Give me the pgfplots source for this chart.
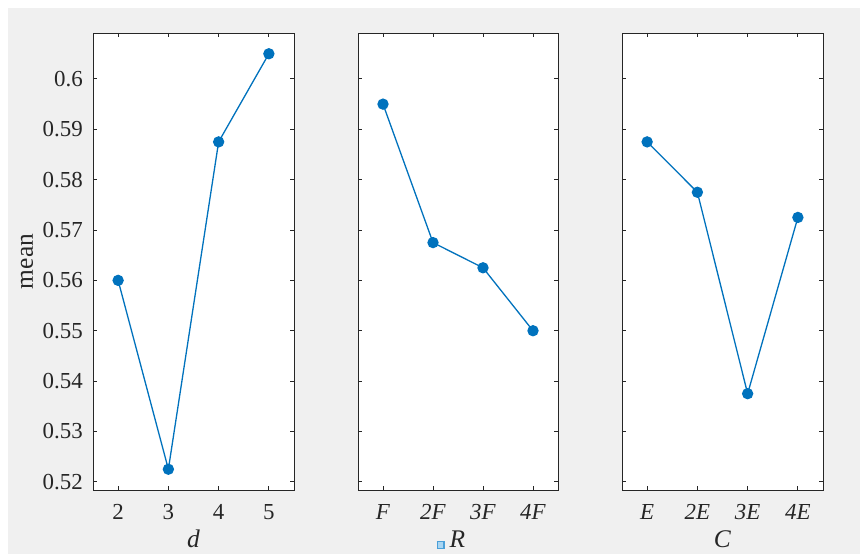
\documentclass[border=0pt]{standalone}
\usepackage{pgfplots}
\pgfplotsset{compat=1.18}
\usepackage{fontspec}
\setmainfont{Liberation Serif}
\definecolor{mblue}{HTML}{0072BD}
\definecolor{bggray}{HTML}{F0F0F0}
\definecolor{axgray}{HTML}{262626}
\definecolor{sqfill}{HTML}{A8D5F2}
\definecolor{sqedge}{HTML}{4A9FD8}
\pgfplotsset{
  myline/.style={color=mblue, line width=1.3bp, mark=*, mark size=5bp, mark options={solid, fill=mblue, draw=mblue}},
  panel/.style={
    scale only axis, width=201bp, height=457bp,
    xmin=-0.5, xmax=3.5, ymin=0.518375, ymax=0.609125,
    xtick={0,1,2,3},
    ytick={0.52,0.53,0.54,0.55,0.56,0.57,0.58,0.59,0.6},
    axis background/.style={fill=white},
    axis line style={axgray, line width=0.9bp},
    every tick/.style={axgray, line width=0.9bp},
    major tick length=4bp,
    tick align=inside,
    /pgf/number format/assume math mode=true,
    ticklabel style={font=\rmfamily\fontsize{23}{27}\selectfont, text=axgray},
    xticklabel style={anchor=base, inner sep=0pt, yshift=-30bp},
    yticklabel style={anchor=east, inner sep=0pt, xshift=-10bp},
    label style={font=\rmfamily\fontsize{25.5}{30}\selectfont, text=axgray},
    xlabel style={at={(axis description cs:0.5,0)}, anchor=base, inner sep=0pt, yshift=-58bp},
  }
}
\begin{document}
\begin{tikzpicture}[x=1bp,y=1bp]
\fill[white] (0,0) rectangle (860,554);
\fill[bggray] (8,0) rectangle (860,546);
\begin{axis}[panel, at={(93bp,64bp)}, anchor=south west,
  xticklabels={2,3,4,5},
  xlabel={\textit{d}},
  ylabel={mean},
  ylabel style={at={(axis description cs:0,0.5)}, anchor=center, inner sep=0pt, yshift=66bp},
  yticklabels={0.52,0.53,0.54,0.55,0.56,0.57,0.58,0.59,0.6}]
\addplot[myline] coordinates {(0,0.5600) (1,0.5225) (2,0.5875) (3,0.6050)};
\end{axis}
\begin{axis}[panel, width=200bp, at={(358bp,64bp)}, anchor=south west,
  xticklabels={\textit{F},\textit{2F},\textit{3F},\textit{4F}},
  xlabel={{\setlength{\fboxsep}{0pt}\setlength{\fboxrule}{1.1bp}\fcolorbox{sqedge}{sqfill}{\rule{0pt}{5.5bp}\rule{5.5bp}{0pt}}}\hspace{5bp}\textit{R}},
  xlabel style={xshift=-7bp},
  yticklabels={}]
\addplot[myline] coordinates {(0,0.5950) (1,0.5675) (2,0.5625) (3,0.5500)};
\end{axis}
\begin{axis}[panel, at={(622bp,64bp)}, anchor=south west,
  xticklabels={\textit{E},\textit{2E},\textit{3E},\textit{4E}},
  xlabel={\textit{C}},
  yticklabels={}]
\addplot[myline] coordinates {(0,0.5875) (1,0.5775) (2,0.5375) (3,0.5725)};
\end{axis}
\end{tikzpicture}
\end{document}
